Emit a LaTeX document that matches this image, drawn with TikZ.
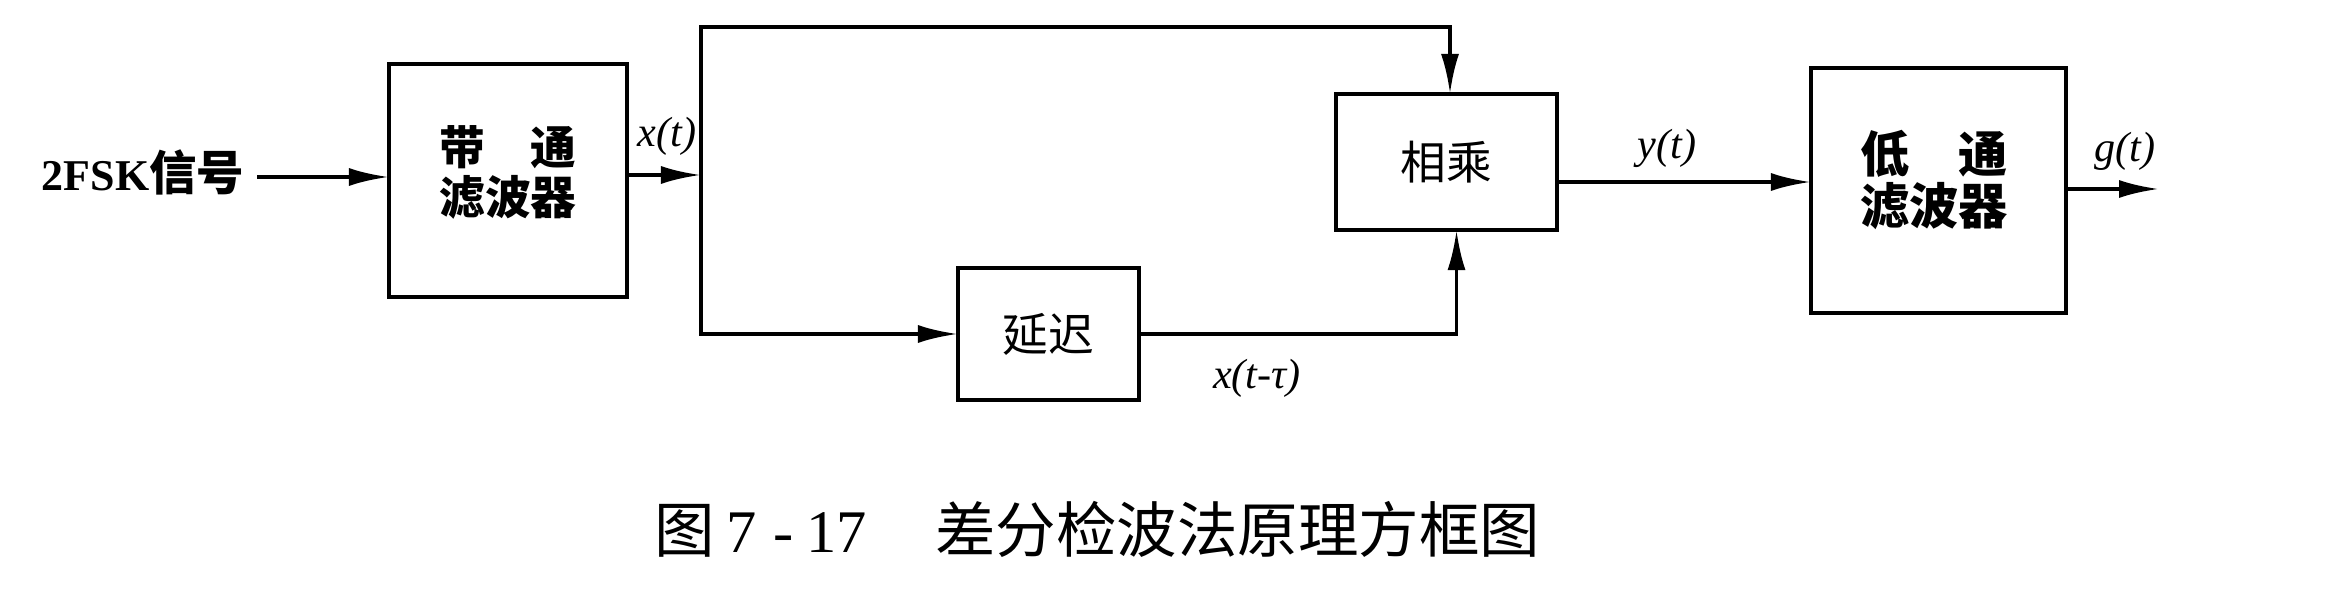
\documentclass[tikz,border=0pt]{standalone}
\usepackage{fontspec}
\setmainfont{Liberation Serif}
\newfontfamily\cjk{Noto Sans CJK SC}
\usetikzlibrary{arrows.meta,calc}
\begin{document}
\begin{tikzpicture}[x=0.01cm,y=0.01cm,
  blk/.style={draw,line width=1.1pt,inner sep=0pt,outer sep=0pt},
  conn/.style={line width=1.1pt,-{Latex[length=4mm,width=1.8mm]}},
  lab/.style={inner sep=0pt,font=\fontsize{12pt}{14pt}\selectfont\itshape},
  cnr/.style={inner sep=0pt,align=center,font=\fontsize{13pt}{14.2pt}\selectfont\cjk},
  cnb/.style={inner sep=0pt,align=center,font=\fontsize{13pt}{14.2pt}\selectfont\cjk\bfseries}]
\useasboundingbox (0,0) rectangle (2352,591);
\fill[white] (0,0) rectangle (2352,591);
% blocks
\node[blk,minimum width=2.38cm,minimum height=2.33cm] (bpf) at (508,410.5) {};
\node[cnb] (bpft) at (508,419) {\makebox[3em][s]{带\hfill 通}\\滤波器};
\node[blk,minimum width=2.21cm,minimum height=1.36cm,cnr] (mul) at (1446.5,429) {相乘};
\node[blk,minimum width=1.81cm,minimum height=1.32cm,cnr] (dly) at (1048.5,257) {延迟};
\node[blk,minimum width=2.55cm,minimum height=2.45cm] (lpf) at (1938.5,400.5) {};
\node[cnb,font=\fontsize{14pt}{14.8pt}\selectfont\cjk\bfseries] (lpft) at (1934,411) {\makebox[3em][s]{低\hfill 通}\\滤波器};
% input
\node[inner sep=0pt,anchor=east] (in) at (245,419) {\fontsize{12.5pt}{14pt}\selectfont\bfseries 2FSK{\fontsize{13.5pt}{14pt}\selectfont\cjk 信号}};
\coordinate (inS) at (257,414);
\draw[conn] (inS) -- (inS -| bpf.west);
% junction and branches
\coordinate (J) at (701,416);
\coordinate (T2) at (1450,564);
\draw[conn] (J -| bpf.east) -- (J);
\draw[conn] (J) |- (T2) -- (T2 |- mul.north);
\draw[conn] (J) |- (dly.west);
\draw[conn] (dly.east) -| ([xshift=0.1cm]mul.south);
\draw[conn] ([yshift=-0.2cm]mul.east) -- ([yshift=-0.2cm]mul.east -| lpf.west);
\coordinate (out) at (2159,402);
\draw[conn] (out -| lpf.east) -- (out);
% labels
\node[lab] (lx) at (667,455) {x(t)};
\node[lab] (lxd) at (1257,213) {x(t-τ)};
\node[lab] (ly) at (1667,443) {y(t)};
\node[lab] (lg) at (2125,440) {g(t)};
% caption
\node[inner sep=0pt,anchor=west,font=\fontsize{17.2pt}{20pt}\selectfont] (cap) at (654,62)
  {{\cjk 图}\hspace{0.11cm}7\hspace{0.17cm}-\hspace{0.13cm}17\hspace{0.68cm}{\cjk 差分检波法原理方框图}};
\end{tikzpicture}
\end{document}
